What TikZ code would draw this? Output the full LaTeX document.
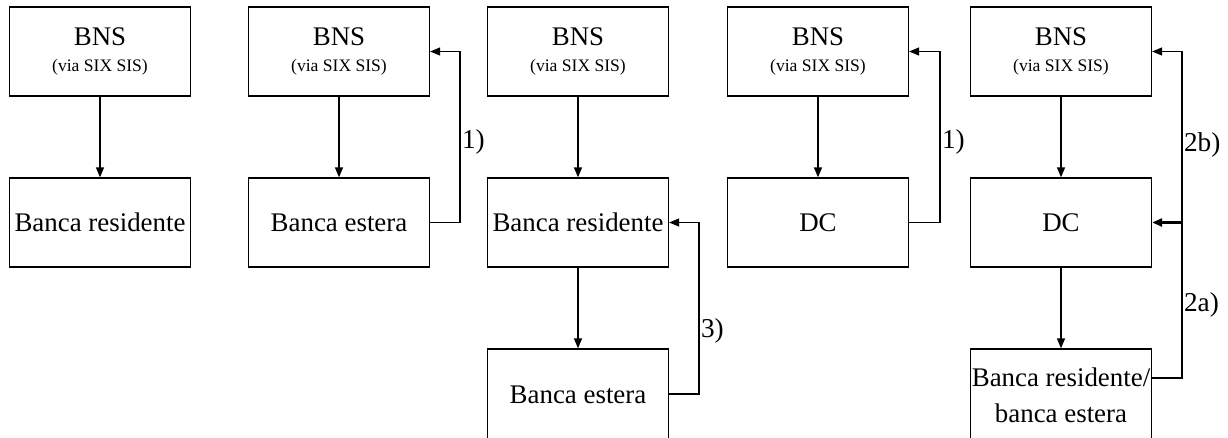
\documentclass[tikz,border=0pt]{standalone}
\usepackage{fontspec}
\setmainfont{Liberation Serif}
\usetikzlibrary{arrows.meta,calc}
\newcommand{\subtxt}[1]{{\fontsize{10}{11}\selectfont #1}}
\begin{document}
\begin{tikzpicture}[x=0.02cm,y=-0.02cm,
  box/.style={draw,line width=0.75pt,minimum width=3.62cm,minimum height=1.78cm,inner sep=0pt,align=center,font=\fontsize{15.3}{20.5}\selectfont},
  lowbox/.style={box,minimum height=1.84cm},
  arr/.style={line width=0.75pt,-{Triangle[length=0.2cm,width=0.16cm]}},
  lab/.style={anchor=west,inner sep=1pt,font=\fontsize{15.5}{17}\selectfont}]
\useasboundingbox (0,0) rectangle (1228,437);
\clip (0,0) rectangle (1228,437);
% column 1
\node[box] (a1) at (100,51.5) {BNS\\[-6pt]\subtxt{(via SIX SIS)}};
\node[box] (b1) at (100,222.5) {Banca residente};
\draw[arr] (a1) -- (b1);
% column 2
\node[box] (a2) at (339,51.5) {BNS\\[-6pt]\subtxt{(via SIX SIS)}};
\node[box] (b2) at (339,222.5) {Banca estera};
\draw[arr] (a2) -- (b2);
\coordinate (r2) at (460,222.5);
\draw[arr] (b2.east) -- (r2) |- (a2.east);
\node[lab] (l2) at (460,142) {1)};
% column 3
\node[box] (a3) at (578,51.5) {BNS\\[-6pt]\subtxt{(via SIX SIS)}};
\node[box] (b3) at (578,222.5) {Banca residente};
\node[lowbox] (c3) at (578,395) {Banca estera};
\draw[arr] (a3) -- (b3);
\draw[arr] (b3) -- (c3);
\coordinate (r3) at (699,394);
\draw[arr] (c3.east |- r3) -- (r3) |- (b3.east);
\node[lab] (l3) at (699,331) {3)};
% column 4
\node[box] (a4) at (818,51.5) {BNS\\[-6pt]\subtxt{(via SIX SIS)}};
\node[box] (b4) at (818,222.5) {DC};
\draw[arr] (a4) -- (b4);
\coordinate (r4) at (940,222.5);
\draw[arr] (b4.east) -- (r4) |- (a4.east);
\node[lab] (l4) at (940,142) {1)};
% column 5
\node[box] (a5) at (1061,51.5) {BNS\\[-6pt]\subtxt{(via SIX SIS)}};
\node[box] (b5) at (1061,222.5) {DC};
\node[lowbox] (c5) at (1061,395) {Banca residente/\\banca estera};
\draw[arr] (a5) -- (b5);
\draw[arr] (b5) -- (c5);
\coordinate (r5) at (1182,378);
\coordinate (m5) at (1182,222.5);
\draw[arr] (c5.east |- r5) -- (r5) |- (a5.east);
\draw[line width=1.4pt,-{Triangle[length=0.2cm,width=0.16cm]}] (m5) -- (b5.east);
\node[lab] (l5a) at (1182,305) {2a)};
\node[lab] (l5b) at (1182,145) {2b)};
\end{tikzpicture}
\end{document}
